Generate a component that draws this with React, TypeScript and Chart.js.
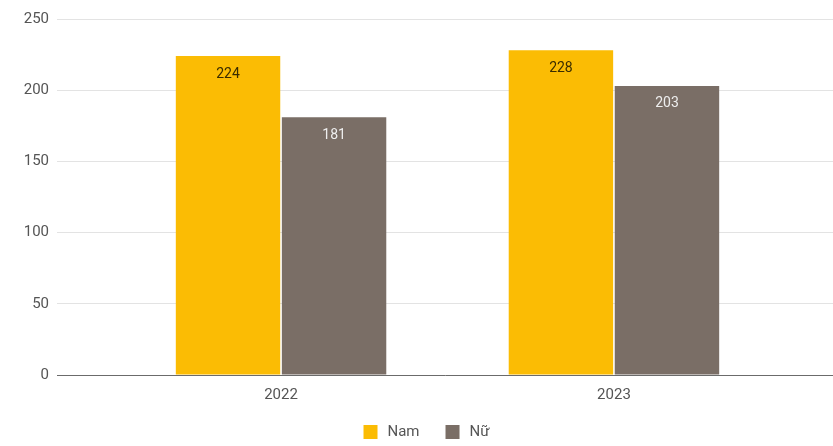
import React, { useEffect, useRef } from "react";
import { Chart, registerables } from "chart.js";

Chart.register(...registerables);

const categories = ["2022", "2023"];
const namValues = [224, 228];
const nuValues = [181, 203];
const seriesLabels = ["Nam", "Nữ"];
const seriesColors = ["#FBBC04", "#7A6E66"];
const labelColors = ["#3a2c00", "#eeeeee"];
const yTicks = [0, 50, 100, 150, 200, 250];

const FONT = "Roboto, Arial, sans-serif";

const years = categories.map((c) => Number(c));

const dataLabelPlugin = {
  id: "dataLabels",
  afterDatasetsDraw(chart: any) {
    const ctx = chart.ctx;
    ctx.save();
    ctx.font = `14px ${FONT}`;
    ctx.textAlign = "center";
    ctx.textBaseline = "middle";
    chart.data.datasets.forEach((ds: any, di: number) => {
      const meta = chart.getDatasetMeta(di);
      meta.data.forEach((el: any, i: number) => {
        ctx.fillStyle = labelColors[di];
        ctx.fillText(String(ds.data[i].y), el.x, el.y + 18);
      });
    });
    ctx.restore();
  },
};

const legendPlugin = {
  id: "customLegend",
  afterDraw(chart: any) {
    const ctx = chart.ctx;
    ctx.save();
    ctx.font = `15px ${FONT}`;
    ctx.textBaseline = "middle";
    const box = 14;
    const gapText = 10;
    const gapItem = 26;
    const widths = seriesLabels.map((l) => box + gapText + ctx.measureText(l).width);
    const total = widths.reduce((a, b) => a + b, 0) + gapItem * (widths.length - 1);
    let x = chart.width / 2 - total / 2 + 10;
    const y = 432;
    seriesLabels.forEach((l, i) => {
      ctx.fillStyle = seriesColors[i];
      ctx.fillRect(x, y - box / 2, box, box);
      ctx.fillStyle = "#555";
      ctx.textAlign = "left";
      ctx.fillText(l, x + box + gapText, y);
      x += widths[i] + gapItem;
    });
    ctx.restore();
  },
};

export default function App() {
  const ref = useRef<HTMLCanvasElement>(null);
  useEffect(() => {
    document.body.style.margin = "0";
    const chart = new Chart(ref.current as HTMLCanvasElement, {
      type: "bar",
      data: {
        datasets: [
          {
            label: seriesLabels[0],
            data: years.map((yr, i) => ({ x: yr, y: namValues[i] })),
            backgroundColor: seriesColors[0],
            categoryPercentage: 0.637,
            barPercentage: 0.985,
          },
          {
            label: seriesLabels[1],
            data: years.map((yr, i) => ({ x: yr, y: nuValues[i] })),
            backgroundColor: seriesColors[1],
            categoryPercentage: 0.637,
            barPercentage: 0.985,
          },
        ] as any,
      },
      options: {
        animation: false,
        responsive: false,
        maintainAspectRatio: false,
        layout: { padding: { top: 19, right: 0, left: 0, bottom: 31 } },
        plugins: {
          legend: { display: false },
          tooltip: { enabled: false },
        },
        scales: {
          x: {
            type: "linear",
            offset: false,
            min: 2021.327,
            max: 2023.658,
            afterBuildTicks: (scale: any) => {
              scale.ticks = years.map((v) => ({ value: v }));
            },
            grid: { display: false, drawTicks: false },
            border: { display: true, color: "#6b6b6b", width: 1 },
            ticks: {
              padding: 11,
              color: "#555",
              font: { family: FONT, size: 15 },
              callback: (v: any) => String(v),
            },
          },
          y: {
            min: 0,
            max: 250,
            afterBuildTicks: (scale: any) => {
              scale.ticks = yTicks.map((v) => ({ value: v }));
            },
            afterFit: (scale: any) => {
              scale.width = 57;
            },
            grid: { color: "#e3e3e3", drawTicks: false },
            border: { display: false },
            ticks: {
              padding: 8,
              color: "#555",
              font: { family: FONT, size: 15 },
            },
          },
        },
      },
      plugins: [dataLabelPlugin, legendPlugin],
    });
    return () => chart.destroy();
  }, []);
  return (
    <div style={{ width: 833, height: 446 }}>
      <canvas ref={ref} width={833} height={446} />
    </div>
  );
}
